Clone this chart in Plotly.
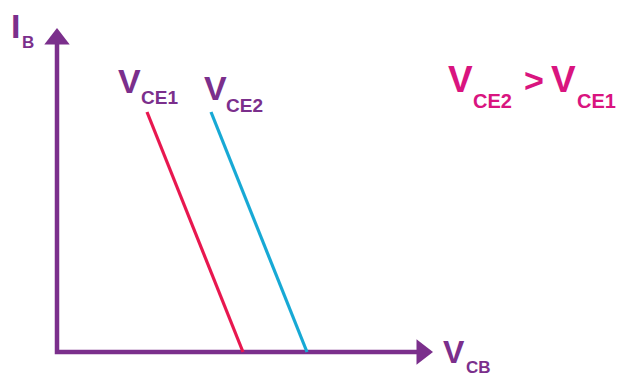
import plotly.graph_objects as go

# Data (arbitrary units: origin at the axes corner)
vce1_x = [90, 186]
vce1_y = [240, 0]
vce2_x = [154, 250]
vce2_y = [240, 0]
axis_x_len = 365
axis_y_len = 313

PURPLE = "#7B2F8C"
RED = "#E8174F"
BLUE = "#17A9D5"
MAGENTA = "#D9147F"
FONT = "Liberation Sans, Arial, sans-serif"

fig = go.Figure()

# axes
fig.add_trace(go.Scatter(x=[0, 0, axis_x_len], y=[axis_y_len, 0, 0], mode="lines",
                         line=dict(color=PURPLE, width=4.5), hoverinfo="skip"))
fig.add_trace(go.Scatter(x=[0], y=[axis_y_len], mode="markers",
                         marker=dict(symbol="triangle-up", size=22, color=PURPLE), hoverinfo="skip"))
fig.add_trace(go.Scatter(x=[axis_x_len], y=[0], mode="markers",
                         marker=dict(symbol="triangle-right", size=22, color=PURPLE), hoverinfo="skip"))

# curves
fig.add_trace(go.Scatter(x=vce1_x, y=vce1_y, mode="lines", line=dict(color=RED, width=3.2)))
fig.add_trace(go.Scatter(x=vce2_x, y=vce2_y, mode="lines", line=dict(color=BLUE, width=3.2)))

def px(x):
    return x - 57

def py(y):
    return 352 - y

labels = [
    # text, size, left px, center px, color, anchor
    ("V", 34, 116, 81.2, PURPLE, "left"),
    ("CE1", 19, 139, 97.4, PURPLE, "left"),
    ("V", 34, 202, 88.2, PURPLE, "left"),
    ("CE2", 19, 224, 105.4, PURPLE, "left"),
    ("V", 37, 446, 79.2, MAGENTA, "left"),
    ("CE2", 20, 471, 101.0, MAGENTA, "left"),
    (">", 34, 534, 80, MAGENTA, "center"),
    ("V", 37, 549, 79.2, MAGENTA, "left"),
    ("CE1", 20, 575, 101.0, MAGENTA, "left"),
    ("V", 32, 441, 351.9, PURPLE, "left"),
    ("CB", 17, 464, 367.1, PURPLE, "left"),
    ("I", 34, 9, 25.5, PURPLE, "left"),
    ("B", 17, 19.8, 42.1, PURPLE, "left"),
]
for t, s, x, y, c, a in labels:
    fig.add_annotation(x=px(x), y=py(y), xref="x", yref="y", text=t, showarrow=False,
                       xanchor=a, yanchor="middle",
                       font=dict(family=FONT, size=s, color=c, weight="bold"))

# page body has an 8px margin: figure is 616x369 starting at (8, 8)
fig.update_layout(
    width=616, height=369, margin=dict(l=0, r=0, t=0, b=0),
    paper_bgcolor="white", plot_bgcolor="white", showlegend=False,
    xaxis=dict(range=[-49, 567], visible=False, fixedrange=True),
    yaxis=dict(range=[-25, 344], visible=False, fixedrange=True),
)

fig.write_html("out.html")
